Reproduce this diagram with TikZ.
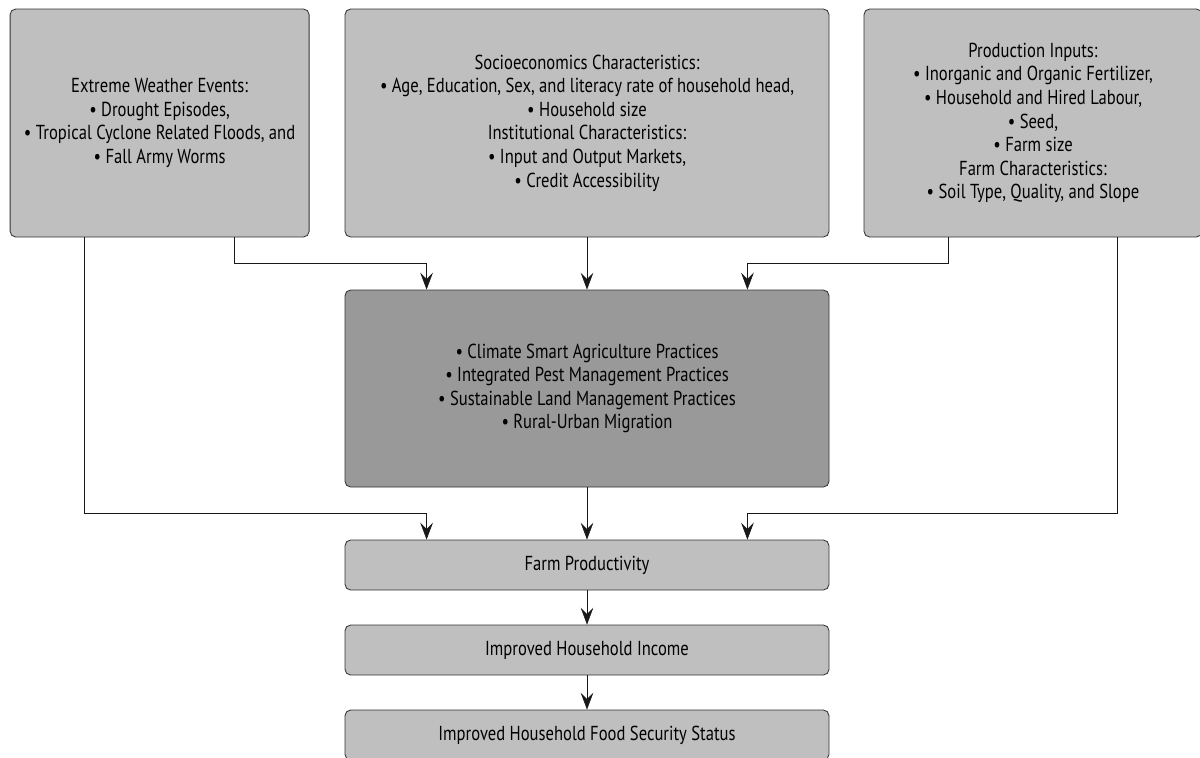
\documentclass[tikz,border=0pt]{standalone}
\usepackage{fontspec}
\setmainfont{PT Sans}[FakeStretch=0.82]
\usetikzlibrary{arrows.meta,positioning,calc}

\begin{document}
\begin{tikzpicture}[
    % Style definitions
    factor/.style={rectangle, draw=black!80, fill=black!25, semithick, rounded corners=4pt, align=center, font=\fontsize{14.4}{16.8}\selectfont, minimum height=5.7cm},
    practice/.style={factor, fill=black!40, minimum width=12.1cm, minimum height=4.925cm},
    outcome/.style={factor, minimum width=12.1cm, minimum height=1.25cm},
    arrow/.style={-{Stealth[length=12pt, width=9pt, inset=4.5pt]}, draw=black!90, thin}
]
\useasboundingbox (0,0) rectangle (30,-18.925);

% Layer 1: Determinants
\node[factor, minimum width=7.475cm] (weather) at (3.99,-3.075) {Extreme Weather Events:\\\textbullet{} Drought Episodes,\\\textbullet{} Tropical Cyclone Related Floods, and\\\textbullet{} Fall Army Worms};
\node[factor, minimum width=12.1cm] (socio) at (14.675,-3.075) {Socioeconomics Characteristics:\\\textbullet{} Age, Education, Sex, and literacy rate of household head,\\\textbullet{} Household size\\Institutional Characteristics:\\\textbullet{} Input and Output Markets,\\\textbullet{} Credit Accessibility};
\node[factor, minimum width=8.45cm] (inputs) at (25.825,-3.075) {Production Inputs:\\\textbullet{} Inorganic and Organic Fertilizer,\\\textbullet{} Household and Hired Labour,\\\textbullet{} Seed,\\\textbullet{} Farm size\\Farm Characteristics:\\\textbullet{} Soil Type, Quality, and Slope};

% Layer 2: Adoption of practices
\node[practice] (practices) at (14.675,-9.7125) {\textbullet{} Climate Smart Agriculture Practices\\\textbullet{} Integrated Pest Management Practices\\\textbullet{} Sustainable Land Management Practices\\\textbullet{} Rural-Urban Migration};

% Layer 3: Outcomes
\node[outcome] (productivity) at (14.675,-14.125) {Farm Productivity};
\node[outcome] (income) at (14.675,-16.25) {Improved Household Income};
\node[outcome] (food) at (14.675,-18.375) {Improved Household Food Security Status};

% Connector ends
\coordinate (w1) at ($(weather.south east)+(-1.875,0)$);
\coordinate (w2) at ($(weather.south west)+(1.875,0)$);
\coordinate (i1) at ($(inputs.south west)+(2.125,0)$);
\coordinate (i2) at ($(inputs.south east)+(-2.125,0)$);
\coordinate (p1) at ($(practices.north west)+(2.05,0)$);
\coordinate (p2) at ($(practices.north east)+(-2.05,0)$);
\coordinate (f1) at ($(productivity.north west)+(2.05,0)$);
\coordinate (f2) at ($(productivity.north east)+(-2.05,0)$);

% Connections
\draw[arrow] (w1) |- ($(p1)+(0,0.65)$) -- (p1);
\draw[arrow] (socio) -- (practices);
\draw[arrow] (i1) |- ($(p2)+(0,0.65)$) -- (p2);

\draw[arrow] (w2) |- ($(f1)+(0,0.65)$) -- (f1);
\draw[arrow] (practices) -- (productivity);
\draw[arrow] (i2) |- ($(f2)+(0,0.65)$) -- (f2);

\draw[arrow] (productivity) -- (income);
\draw[arrow] (income) -- (food);

\end{tikzpicture}
\end{document}
